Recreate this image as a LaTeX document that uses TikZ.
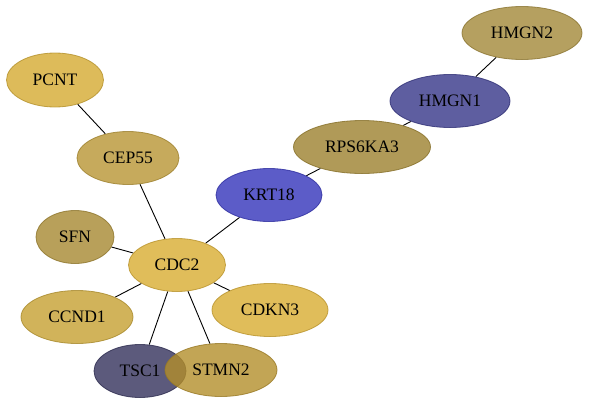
\documentclass[tikz,border=0pt]{standalone}
\usepackage{fontspec}
\setmainfont{Liberation Serif}
\usetikzlibrary{shapes.geometric}
\pgfdeclarelayer{bg}
\pgfsetlayers{bg,main}
\definecolor{cHMGNtwo}{RGB}{162,136,56}
\definecolor{cHMGNone}{RGB}{54,54,136}
\definecolor{cRPS}{RGB}{156,129,46}
\definecolor{cKRT}{RGB}{51,51,186}
\definecolor{cPCNT}{RGB}{212,170,49}
\definecolor{cCEP}{RGB}{184,149,51}
\definecolor{cSFN}{RGB}{166,136,49}
\definecolor{cCDC}{RGB}{216,172,49}
\definecolor{cCCND}{RGB}{197,160,49}
\definecolor{cTSC}{RGB}{51,49,91}
\definecolor{cSTMN}{RGB}{179,142,42}
\tikzset{
  gene/.style={ellipse, inner sep=0pt, fill=#1, draw=#1!85!black, fill opacity=0.8, draw opacity=0.8, text opacity=1, line width=0.8pt, font=\fontsize{17.5}{20}\selectfont},
  link/.style={line width=0.9pt, black}
}
\begin{document}
\begin{tikzpicture}[x=1pt,y=-1pt]
\useasboundingbox (0,0) rectangle (589,405);
\node[gene=cHMGNtwo, minimum width=120pt, minimum height=53pt] (hmgn2) at (522,33) {HMGN2};
\node[gene=cHMGNone, minimum width=120pt, minimum height=53pt] (hmgn1) at (450,101) {HMGN1};
\node[gene=cRPS, minimum width=137pt, minimum height=53pt] (rps) at (362,147) {RPS6KA3};
\node[gene=cKRT, minimum width=106pt, minimum height=53pt] (krt) at (269,195) {KRT18};
\node[gene=cPCNT, minimum width=97pt, minimum height=54pt] (pcnt) at (55,80) {PCNT};
\node[gene=cCEP, minimum width=102pt, minimum height=53pt] (cep) at (128,158) {CEP55};
\node[gene=cSFN, minimum width=78pt, minimum height=53pt] (sfn) at (75,237) {SFN};
\node[gene=cCDC, minimum width=97pt, minimum height=53pt] (cdc) at (177,265) {CDC2};
\node[gene=cCDC, minimum width=116pt, minimum height=53pt] (cdkn) at (270,310) {CDKN3};
\node[gene=cCCND, minimum width=112pt, minimum height=53pt] (ccnd) at (77,317) {CCND1};
\node[gene=cTSC, minimum width=92pt, minimum height=53pt] (tsc) at (140,371) {TSC1};
\node[gene=cSTMN, minimum width=112pt, minimum height=53pt] (stmn) at (221,370) {STMN2};
\begin{pgfonlayer}{bg}
\draw[link] (hmgn2) -- (hmgn1);
\draw[link] (hmgn1) -- (rps);
\draw[link] (rps) -- (krt);
\draw[link] (krt) -- (cdc);
\draw[link] (pcnt) -- (cep);
\draw[link] (cep) -- (cdc);
\draw[link] (sfn) -- (cdc);
\draw[link] (ccnd) -- (cdc);
\draw[link] (tsc) -- (cdc);
\draw[link] (stmn) -- (cdc);
\draw[link] (cdkn) -- (cdc);
\end{pgfonlayer}
\end{tikzpicture}
\end{document}
